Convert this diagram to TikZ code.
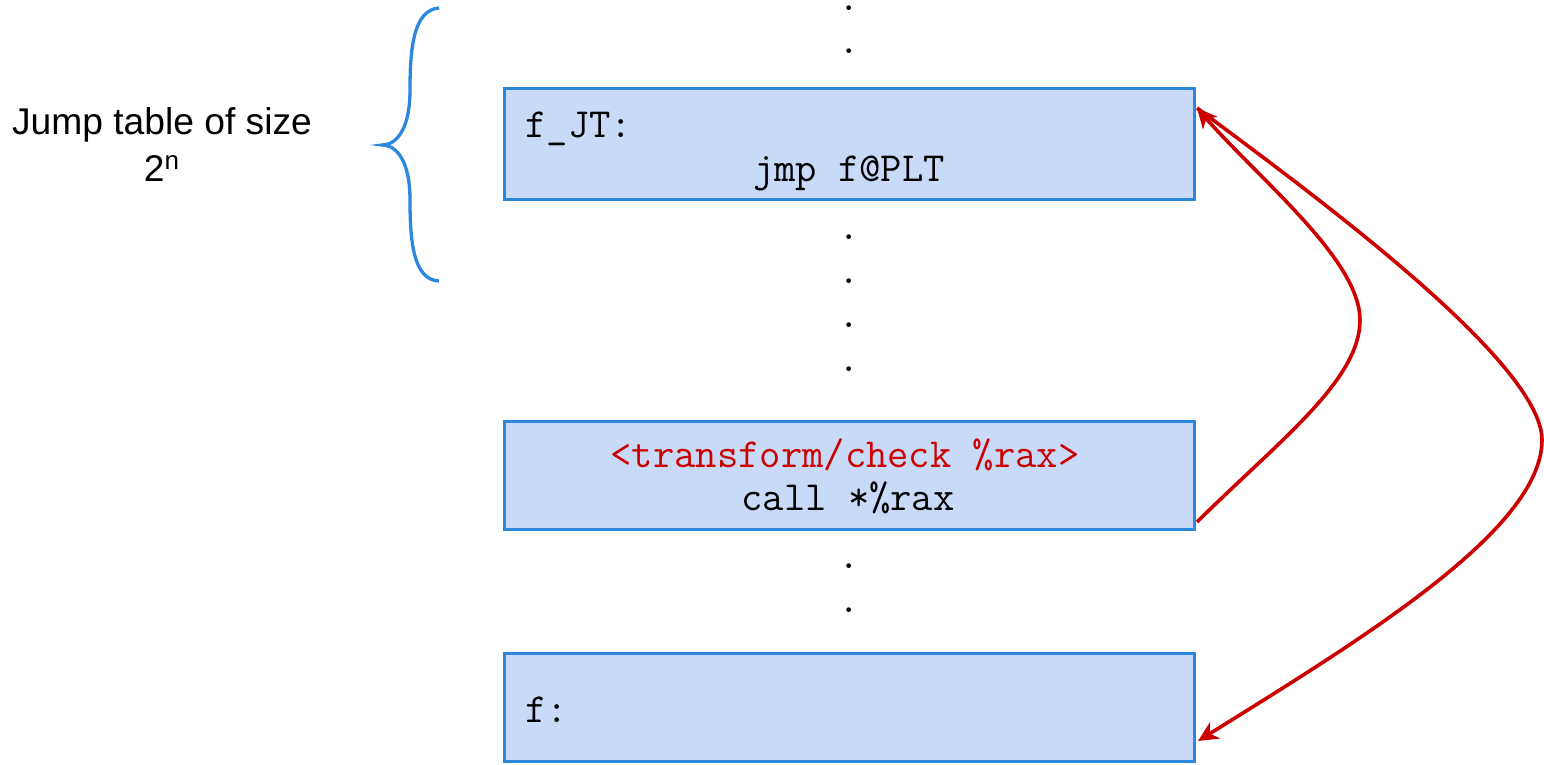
\documentclass[tikz,border=0pt]{standalone}
\usepackage{fontspec}
\setmainfont{Liberation Sans}
\usetikzlibrary{arrows.meta}
\definecolor{boxfill}{HTML}{C9DAF8}
\definecolor{boxline}{HTML}{2B88DE}
\definecolor{arrowred}{HTML}{CC0000}
\begin{document}
\begin{tikzpicture}[x=0.5pt,y=-0.5pt,
  box/.style={draw=boxline, fill=boxfill, line width=1.65pt, minimum width=345pt, inner sep=0pt, rectangle},
  code/.style={font=\ttfamily\fontsize{20.7}{24}\selectfont, inner sep=0pt},
  dotmark/.style={font=\ttfamily\fontsize{20.7}{24}\selectfont, inner sep=0pt, anchor=base, text height=1pt, text depth=0pt},
  lbl/.style={font=\fontsize{18.6}{22}\selectfont, inner sep=0pt, anchor=base},
  link/.style={draw=arrowred, line width=1.8pt, -{Stealth[length=10pt,width=9.5pt,inset=3pt]}},
  bracestyle/.style={draw=boxline, line width=1.65pt}
]
\useasboundingbox (0,0) rectangle (1544,765);

% boxes
\node[box, minimum height=55.5pt] (jt) at (849.5,144) {};
\node[box, minimum height=54pt] (chk) at (849.5,475.5) {};
\node[box, minimum height=54pt] (fbox) at (849.5,707.5) {};

% box texts
\node[code, anchor=base west] (jtlab) at (525,138) {f\_JT:};
\node[code, anchor=base] (jmp) at (849,182) {jmp f@PLT};
\node[code, anchor=base, text=arrowred] (tr) at (845,467) {<transform/check \%rax>};
\node[code, anchor=base] (call) at (848,510) {call *\%rax};
\node[code, anchor=base west] (flab) at (525,722) {f:};

% dots
\node[dotmark] (d1) at (849,11) {.};
\node[dotmark] (d2) at (849,54) {.};
\node[dotmark] (d3) at (849,240) {.};
\node[dotmark] (d4) at (849,284) {.};
\node[dotmark] (d5) at (849,328) {.};
\node[dotmark] (d6) at (849,371) {.};
\node[dotmark] (d7) at (849,568) {.};
\node[dotmark] (d8) at (849,612) {.};

% brace
\draw[bracestyle] (439,8) .. controls (413,10) and (410,50) .. (410,90)
  .. controls (410,130) and (396,145) .. (382,145)
  .. controls (396,145) and (410,160) .. (410,200)
  .. controls (410,240) and (413,280) .. (439,281);

% label
\node[lbl] (lab1) at (162,135) {Jump table of size};
\node[lbl] (lab2) at (162,182) {2\textsuperscript{n}};

% connectors
\coordinate (jtin) at (1197,108);
\coordinate (chkout) at (1197,522);
\coordinate (fin) at (1198,741);
\draw[link] (chkout) .. controls (1280,440) and (1360,380) .. (1360,320)
  .. controls (1360,260) and (1260,180) .. (jtin);
\draw[link] (jtin) .. controls (1300,185) and (1542,360) .. (1542,440)
  .. controls (1542,530) and (1360,640) .. (fin);
\end{tikzpicture}
\end{document}
